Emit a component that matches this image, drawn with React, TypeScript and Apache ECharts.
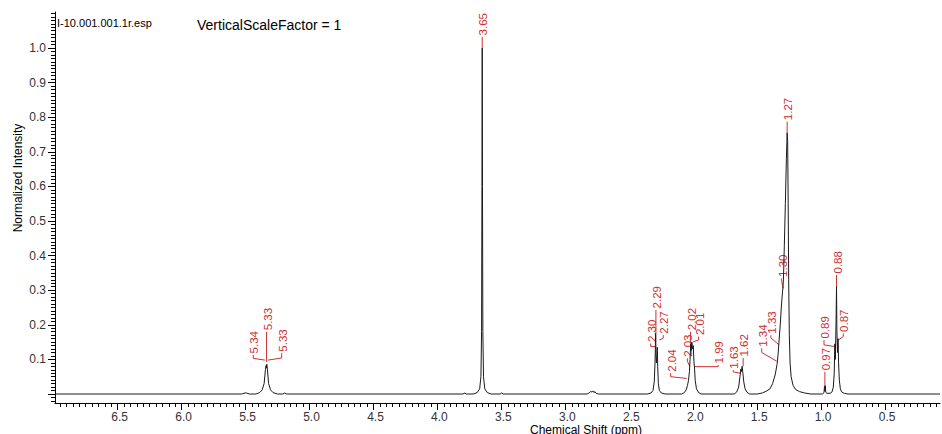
import React, { useEffect, useRef } from 'react';
import * as echarts from 'echarts';

// ---------- axis ranges / ticks ----------
const X_MIN = 0.071;
const X_MAX = 6.99;
const Y_MIN = -0.026;
const Y_MAX = 1.104;

const X_TICK_LABELS = [6.5, 6.0, 5.5, 5.0, 4.5, 4.0, 3.5, 3.0, 2.5, 2.0, 1.5, 1.0, 0.5];
const Y_TICK_LABELS = [0.1, 0.2, 0.3, 0.4, 0.5, 0.6, 0.7, 0.8, 0.9, 1.0];
const Y_MAJOR_TICKS = [0, 0.1, 0.2, 0.3, 0.4, 0.5, 0.6, 0.7, 0.8, 0.9, 1.0];

const X_MINOR_TICKS: number[] = [];
for (let k = 2; k <= 139; k++) X_MINOR_TICKS.push(+(k * 0.05).toFixed(2));
const Y_MINOR_TICKS: number[] = [];
for (let k = -2; k <= 110; k++) Y_MINOR_TICKS.push(+(k * 0.01).toFixed(2));

// ---------- spectrum (ppm, normalized intensity) ----------
const BASE_START = [[6.99, 0], [5.53, 0]];
const BUMP_550 = [[5.505, 0.003], [5.495, 0.003], [5.47, 0]];
const PEAK_533 = [
  [5.42, 0], [5.39, 0.004], [5.37, 0.012], [5.355, 0.03], [5.345, 0.07], [5.34, 0.082],
  [5.337, 0.075], [5.334, 0.086], [5.329, 0.07], [5.32, 0.03], [5.305, 0.012], [5.285, 0.004], [5.25, 0],
];
const BUMP_519 = [[5.21, 0], [5.195, 0.003], [5.18, 0]];
const PEAK_365 = [
  [3.80, 0], [3.785, 0.003], [3.775, 0], [3.72, 0], [3.69, 0.004], [3.67, 0.015], [3.66, 0.05],
  [3.655, 0.18], [3.652, 0.6], [3.65, 1.0], [3.648, 0.6], [3.645, 0.18], [3.64, 0.05], [3.63, 0.015],
  [3.61, 0.004], [3.58, 0], [3.51, 0], [3.498, 0.003], [3.485, 0],
];
const MULT_278 = [
  [2.83, 0], [2.81, 0.004], [2.80, 0.008], [2.795, 0.005], [2.785, 0.009], [2.775, 0.004],
  [2.77, 0.007], [2.76, 0.002], [2.74, 0],
];
const PEAK_229 = [
  [2.36, 0], [2.33, 0.003], [2.315, 0.01], [2.305, 0.035], [2.299, 0.09], [2.296, 0.14], [2.294, 0.175],
  [2.291, 0.11], [2.288, 0.09], [2.284, 0.11], [2.281, 0.135], [2.278, 0.08], [2.273, 0.03],
  [2.265, 0.01], [2.25, 0.003], [2.22, 0],
];
const MULT_202 = [
  [2.09, 0], [2.07, 0.004], [2.055, 0.012], [2.045, 0.025], [2.037, 0.04], [2.03, 0.065], [2.025, 0.1],
  [2.02, 0.145], [2.016, 0.125], [2.011, 0.15], [2.006, 0.13], [2.0, 0.14], [1.995, 0.095],
  [1.99, 0.075], [1.985, 0.04], [1.975, 0.015], [1.96, 0.005], [1.94, 0],
];
const MULT_162 = [
  [1.68, 0], [1.66, 0.006], [1.645, 0.02], [1.635, 0.05], [1.628, 0.072], [1.624, 0.065],
  [1.618, 0.08], [1.612, 0.06], [1.605, 0.035], [1.595, 0.015], [1.58, 0.005], [1.56, 0],
];
const PEAK_127 = [
  [1.50, 0], [1.46, 0.003], [1.43, 0.008], [1.40, 0.015], [1.38, 0.03], [1.36, 0.055], [1.345, 0.085],
  [1.338, 0.11], [1.33, 0.15], [1.32, 0.2], [1.31, 0.26], [1.30, 0.305], [1.295, 0.33], [1.288, 0.43],
  [1.28, 0.55], [1.272, 0.68], [1.266, 0.755], [1.262, 0.73], [1.258, 0.55], [1.254, 0.33],
  [1.249, 0.17], [1.243, 0.09], [1.235, 0.05], [1.22, 0.025], [1.20, 0.013], [1.17, 0.007],
  [1.13, 0.003], [1.08, 0],
];
const PEAK_097 = [
  [0.99, 0], [0.978, 0.004], [0.974, 0.022], [0.971, 0.008], [0.968, 0.024], [0.964, 0.005], [0.955, 0.002],
];
const PEAK_088 = [
  [0.93, 0.002], [0.915, 0.006], [0.905, 0.02], [0.898, 0.06], [0.893, 0.145], [0.889, 0.1],
  [0.884, 0.2], [0.880, 0.31], [0.877, 0.18], [0.872, 0.12], [0.868, 0.16], [0.864, 0.09],
  [0.858, 0.04], [0.85, 0.015], [0.84, 0.006], [0.82, 0.002], [0.79, 0],
];
const BASE_END = [[0.071, 0]];

// ---------- peak labels ----------
const LABEL_TEXT = [
  '5.34', '5.33', '5.33', '3.65', '2.30', '2.29', '2.27', '2.04', '2.03', '2.02', '2.01',
  '1.99', '1.63', '1.62', '1.34', '1.33', '1.30', '1.27', '0.97', '0.89', '0.88', '0.87',
];
// leader lines: first point = where the text starts, last point = the peak
const LABEL_LEADERS = [
  [[5.440, 0.113], [5.440, 0.103], [5.349, 0.098]],
  [[5.336, 0.180], [5.336, 0.093]],
  [[5.218, 0.118], [5.218, 0.104], [5.325, 0.098]],
  [[3.650, 1.032], [3.650, 1.0]],
  [[2.333, 0.146], [2.333, 0.137], [2.297, 0.137]],
  [[2.292, 0.243], [2.292, 0.175]],
  [[2.235, 0.170], [2.235, 0.161], [2.266, 0.156]],
  [[2.177, 0.060], [2.177, 0.050], [2.052, 0.045]],
  [[2.046, 0.103], [2.046, 0.095], [2.028, 0.080]],
  [[2.021, 0.180], [2.021, 0.145]],
  [[1.958, 0.166], [1.958, 0.156], [2.000, 0.151]],
  [[1.805, 0.084], [1.805, 0.079], [1.990, 0.079]],
  [[1.688, 0.069], [1.688, 0.064], [1.628, 0.060]],
  [[1.610, 0.104], [1.610, 0.080]],
  [[1.465, 0.132], [1.465, 0.120], [1.348, 0.095]],
  [[1.393, 0.170], [1.393, 0.162], [1.330, 0.142]],
  [[1.309, 0.334], [1.309, 0.325], [1.295, 0.305]],
  [[1.266, 0.787], [1.266, 0.755]],
  [[0.971, 0.064], [0.971, 0.022]],
  [[0.978, 0.156], [0.978, 0.142], [0.893, 0.137]],
  [[0.880, 0.344], [0.880, 0.310]],
  [[0.827, 0.175], [0.827, 0.166], [0.866, 0.156]],
];

const FONT = '"Liberation Sans", Arial, Helvetica, sans-serif';
const RED = '#d03030';

export default function App() {
  const ref = useRef<HTMLDivElement | null>(null);

  useEffect(() => {
    if (!ref.current) return;
    const chart = echarts.init(ref.current, undefined, { renderer: 'svg' });

    const spectrum = [
      ...BASE_START, ...BUMP_550, ...PEAK_533, ...BUMP_519, ...PEAK_365, ...MULT_278,
      ...PEAK_229, ...MULT_202, ...MULT_162, ...PEAK_127, ...PEAK_097, ...PEAK_088, ...BASE_END,
    ];

    const xBase = {
      type: 'value',
      min: X_MIN,
      max: X_MAX,
      inverse: true,
      position: 'bottom',
      splitLine: { show: false },
    };
    const yBase = {
      type: 'value',
      min: Y_MIN,
      max: Y_MAX,
      position: 'left',
      splitLine: { show: false },
    };

    const option: any = {
      animation: false,
      backgroundColor: '#ffffff',
      grid: { left: 55, right: 2, top: 12, bottom: 31, containLabel: false },
      xAxis: [
        {
          ...xBase,
          axisLine: { show: true, onZero: false, lineStyle: { color: '#000', width: 1 } },
          axisTick: { show: true, length: 7, customValues: X_TICK_LABELS, lineStyle: { color: '#000' } },
          axisLabel: {
            show: true,
            customValues: X_TICK_LABELS,
            formatter: (v: number) => v.toFixed(1),
            color: '#333',
            fontSize: 12,
            fontFamily: FONT,
            margin: 8,
            padding: [0, 0, 0, 4],
          },
        },
        {
          ...xBase,
          axisLine: { show: false, onZero: false },
          axisTick: { show: true, length: 4, customValues: X_MINOR_TICKS, lineStyle: { color: '#000' } },
          axisLabel: { show: false },
        },
      ],
      yAxis: [
        {
          ...yBase,
          axisLine: { show: true, onZero: false, lineStyle: { color: '#000', width: 1 } },
          axisTick: { show: true, length: 7, customValues: Y_MAJOR_TICKS, lineStyle: { color: '#000' } },
          axisLabel: {
            show: true,
            customValues: Y_TICK_LABELS,
            formatter: (v: number) => v.toFixed(1),
            color: '#333',
            fontSize: 12,
            fontFamily: FONT,
            margin: 9,
          },
        },
        {
          ...yBase,
          axisLine: { show: false, onZero: false },
          axisTick: { show: true, length: 4, customValues: Y_MINOR_TICKS, lineStyle: { color: '#000' } },
          axisLabel: { show: false },
        },
      ],
      graphic: [
        {
          type: 'text', x: 57, y: 22.5, silent: true,
          style: { text: 'I-10.001.001.1r.esp', fill: '#000', fontSize: 11, fontFamily: FONT, align: 'left', verticalAlign: 'middle' },
        },
        {
          type: 'text', x: 197, y: 24.5, silent: true,
          style: { text: 'VerticalScaleFactor = 1', fill: '#000', fontSize: 14, fontFamily: FONT, align: 'left', verticalAlign: 'middle' },
        },
        {
          type: 'text', x: 17.5, y: 178, rotation: Math.PI / 2, silent: true,
          style: { text: 'Normalized Intensity', fill: '#000', fontSize: 12, fontFamily: FONT, align: 'center', verticalAlign: 'middle' },
        },
        {
          type: 'text', x: 586, y: 430, silent: true,
          style: { text: 'Chemical Shift (ppm)', fill: '#000', fontSize: 12, fontFamily: FONT, align: 'center', verticalAlign: 'middle' },
        },
      ],
      series: [
        {
          type: 'line',
          xAxisIndex: 0,
          yAxisIndex: 0,
          data: spectrum,
          showSymbol: false,
          symbol: 'none',
          clip: true,
          lineStyle: { color: '#1a1a1a', width: 1 },
          silent: true,
        },
        {
          type: 'custom',
          xAxisIndex: 0,
          yAxisIndex: 0,
          clip: false,
          silent: true,
          data: LABEL_LEADERS.map((pts) => pts[pts.length - 1]),
          renderItem: (params: any, api: any) => {
            const i = params.dataIndex;
            const pts = LABEL_LEADERS[i].map((p) => api.coord(p));
            const top = pts[0];
            return {
              type: 'group',
              children: [
                {
                  type: 'polyline',
                  shape: { points: pts },
                  style: { stroke: RED, lineWidth: 1, fill: null },
                },
                {
                  type: 'text',
                  x: top[0] + 1,
                  y: top[1] - 1.5,
                  rotation: Math.PI / 2,
                  style: {
                    text: LABEL_TEXT[i],
                    fill: RED,
                    fontSize: 11.5,
                    fontFamily: FONT,
                    align: 'left',
                    verticalAlign: 'middle',
                  },
                },
              ],
            };
          },
        },
      ],
    };

    chart.setOption(option);
    return () => {
      chart.dispose();
    };
  }, []);

  return (
    <div
      ref={ref}
      style={{ position: 'absolute', left: 0, top: 0, width: 942, height: 434, background: '#fff' }}
    />
  );
}
